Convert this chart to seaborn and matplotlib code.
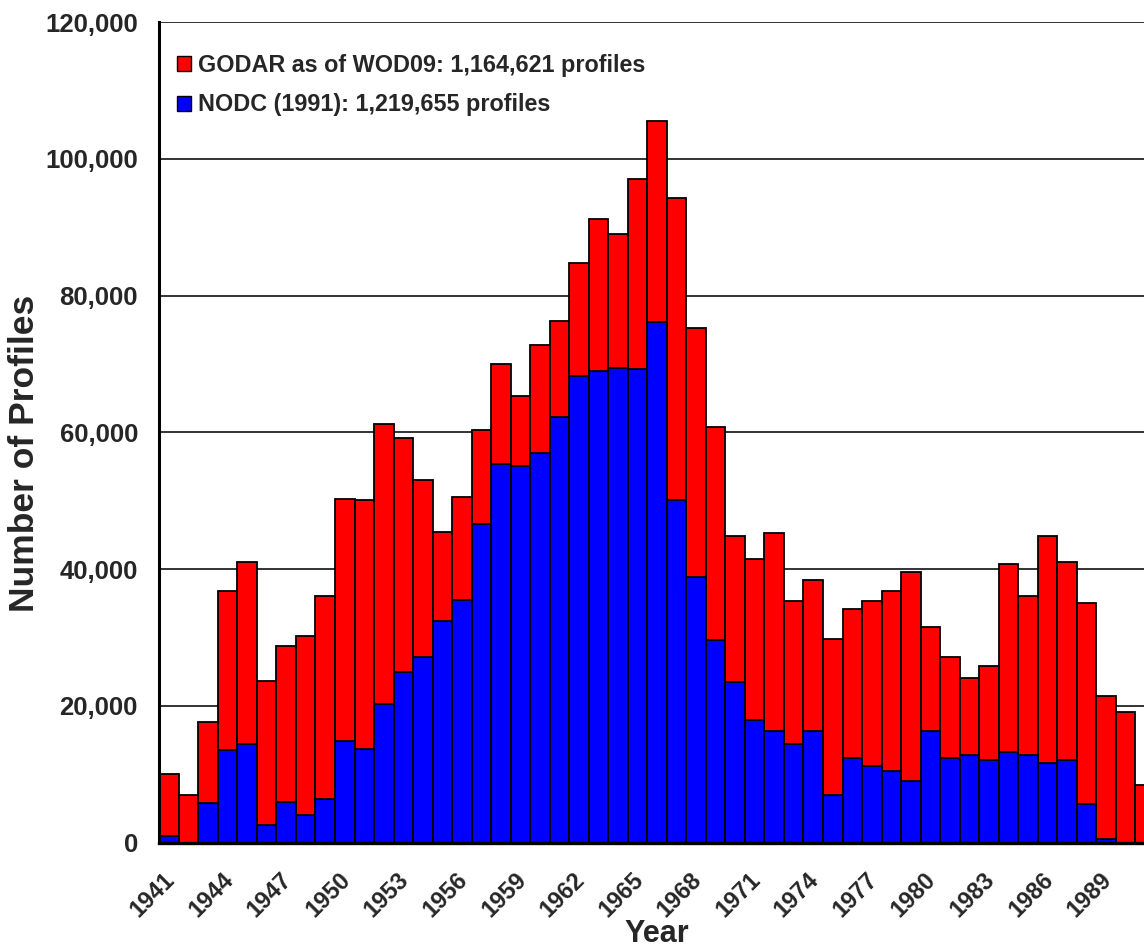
import matplotlib
matplotlib.use("Agg")
import matplotlib.pyplot as plt
from matplotlib.patches import Patch
from matplotlib.transforms import ScaledTranslation
import seaborn as sns
import numpy as np
import pandas as pd

# ---- data ----
years = list(range(1941, 1992))
total_profiles = [10000, 7000, 17700, 36800, 41000, 23700, 28800, 30200, 36000, 50300,
                  50100, 61200, 59200, 53000, 45500, 50500, 60400, 70000, 65300, 72700,
                  76300, 84800, 91200, 89000, 97100, 105500, 94300, 75300, 60800, 44900,
                  41500, 45300, 35400, 38400, 29800, 34200, 35400, 36800, 39600, 31600,
                  27200, 24100, 25800, 40700, 36000, 44900, 41000, 35000, 21500, 19100,
                  8400]
nodc_profiles = [1000, 0, 5800, 13500, 14400, 2600, 6000, 4000, 6400, 14900,
                 13700, 20300, 24900, 27200, 32400, 35500, 46600, 55400, 55100, 57000,
                 62200, 68300, 69000, 69400, 69200, 76100, 50100, 38900, 29600, 23500,
                 17900, 16300, 14500, 16300, 7000, 12400, 11200, 10500, 9000, 16300,
                 12400, 12800, 12100, 13200, 12800, 11600, 12100, 5600, 500, 0,
                 0]
legend_labels = ["GODAR as of WOD09: 1,164,621 profiles",
                 "NODC (1991): 1,219,655 profiles"]
yticks = [0, 20000, 40000, 60000, 80000, 100000, 120000]

df = pd.DataFrame({"year": [str(y) for y in years],
                   "total": total_profiles,
                   "nodc": nodc_profiles})

sns.set_style("white")
plt.rcParams["font.family"] = ["Liberation Sans", "DejaVu Sans"]
plt.rcParams["font.weight"] = "bold"

W, H = 1144, 950
fig = plt.figure(figsize=(W / 100, H / 100), dpi=100)
ax_left, ax_right = 159.3, 159.3 + 51 * 19.52
ax_top, ax_bot = 22.0, 842.7
ax = fig.add_axes([ax_left / W, 1 - ax_bot / H, (ax_right - ax_left) / W, (ax_bot - ax_top) / H])

RED, BLUE = "#FF0000", "#0000FF"
sns.barplot(data=df, x="year", y="total", color=RED, saturation=1, width=1.0,
            edgecolor="black", linewidth=1.3, ax=ax, zorder=2)
sns.barplot(data=df, x="year", y="nodc", color=BLUE, saturation=1, width=1.0,
            edgecolor="black", linewidth=1.3, ax=ax, zorder=3)

ax.set_xlim(-0.5, len(years) - 0.5)
ax.set_ylim(0, 120000)

# grid
ax.set_yticks(yticks)
ax.set_yticklabels([f"{v:,}" for v in yticks])
ax.yaxis.grid(True, color="#333333", linewidth=1.4, zorder=0)
ax.xaxis.grid(False)
ax.set_axisbelow(True)

# x ticks: labels every 3 years at bar centres, tick marks at boundaries
lab_idx = list(range(0, len(years), 3))
ax.set_xticks(lab_idx)
ax.set_xticklabels([str(years[i]) for i in lab_idx], rotation=45, ha="right", va="top",
                   rotation_mode="anchor")
ax.set_xticks(np.arange(-0.5, len(years), 1.0), minor=True)
ax.tick_params(axis="x", which="major", length=0, pad=18.6, labelsize=17)
ax.tick_params(axis="x", which="minor", length=5, width=1.2, color="#333333", direction="out")
ax.tick_params(axis="y", which="major", length=5, width=1.2, color="#333333",
               direction="out", pad=10.4, labelsize=18.5)
shift = ScaledTranslation(-6 / 100, 0, fig.dpi_scale_trans)
for lab in ax.get_xticklabels():
    lab.set_fontweight("bold")
    lab.set_transform(lab.get_transform() + shift)
for lab in ax.get_yticklabels():
    lab.set_fontweight("bold")

# spines
for s in ["top", "right"]:
    ax.spines[s].set_visible(False)
ax.spines["left"].set_linewidth(2.2)
ax.spines["left"].set_color("black")
ax.spines["bottom"].set_linewidth(2.4)
ax.spines["bottom"].set_color("black")
ax.spines["left"].set_zorder(5)
ax.spines["bottom"].set_zorder(5)

# axis labels
ax.set_xlabel("Year", fontsize=22, fontweight="bold")
ax.xaxis.label.set_va("bottom")
ax.xaxis.set_label_coords(0.5, (ax_bot - 949.0) / (ax_bot - ax_top))
ax.set_ylabel("Number of Profiles", fontsize=25.5, fontweight="bold")
ax.yaxis.label.set_va("center")
ax.yaxis.set_label_coords((25 - ax_left) / (ax_right - ax_left), (ax_bot - 453) / (ax_bot - ax_top))

# legend
handles = [Patch(facecolor=RED, edgecolor="black", linewidth=1.0),
           Patch(facecolor=BLUE, edgecolor="black", linewidth=1.0)]
leg = ax.legend(handles, legend_labels, loc="upper left",
                bbox_to_anchor=((176.7 - ax_left) / (ax_right - ax_left), (ax_bot - 54) / (ax_bot - ax_top)),
                frameon=False, borderpad=0, borderaxespad=0, handlelength=0.62, handleheight=0.62,
                handletextpad=0.3, labelspacing=0.7,
                prop={"size": 16.8, "weight": "bold"})

fig.savefig("out.png", dpi=100)
